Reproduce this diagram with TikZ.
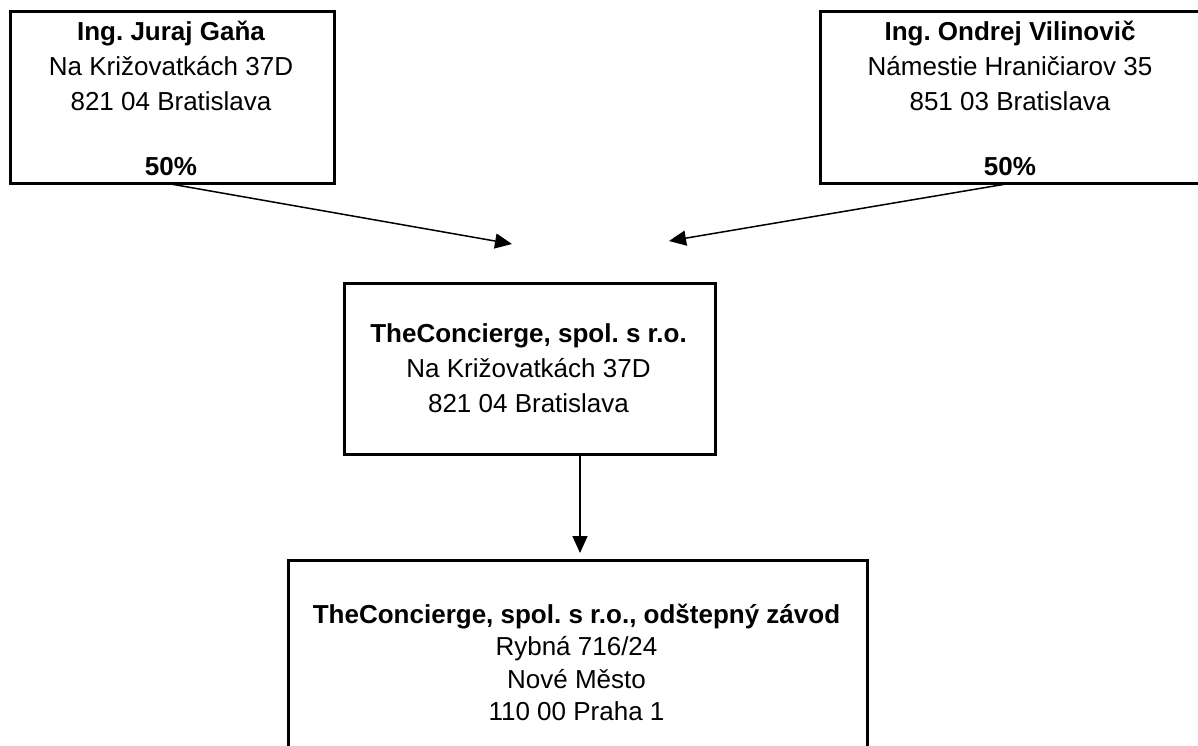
\documentclass[tikz,border=0pt]{standalone}
\usepackage{fontspec}
\setmainfont{Liberation Sans}
\usetikzlibrary{arrows.meta}
\frenchspacing
\begin{document}
\begin{tikzpicture}[x=1pt,y=-1pt,
  box/.style={draw, line width=2.6pt, rectangle, inner sep=0pt, anchor=north west},
  txt/.style={anchor=base, inner sep=0pt, font=\fontsize{26}{31}\selectfont},
  btxt/.style={anchor=base, inner sep=0pt, font=\fontsize{26}{31}\selectfont\bfseries},
  conn/.style={line width=1.5pt, -{Triangle[length=17pt,width=15pt]}}]
\useasboundingbox (0,0) rectangle (1198,745);
\clip (0,0) rectangle (1198,745);
% boxes
\node[box, minimum width=324pt, minimum height=172pt] (ga) at (9,10) {};
\node[box, minimum width=383pt, minimum height=172pt] (vi) at (819,10) {};
\node[box, minimum width=371pt, minimum height=171pt] (tc) at (343,282) {};
\node[box, minimum width=579pt, minimum height=260pt] (oz) at (287,559) {};
% texts, left box
\node[btxt] (ga1) at (171,40) {Ing. Juraj Gaňa};
\node[txt] (ga2) at (171,75) {Na Križovatkách 37D};
\node[txt] (ga3) at (171,110) {821 04 Bratislava};
\node[btxt] (ga4) at (171,175) {50\%};
% texts, right box
\node[btxt] (vi1) at (1010,40) {Ing. Ondrej Vilinovič};
\node[txt] (vi2) at (1010,75) {Námestie Hraničiarov 35};
\node[txt] (vi3) at (1010,110) {851 03 Bratislava};
\node[btxt] (vi4) at (1010,175) {50\%};
% texts, middle box
\node[btxt] (tc1) at (528.5,342) {TheConcierge, spol. s r.o.};
\node[txt] (tc2) at (528.5,377) {Na Križovatkách 37D};
\node[txt] (tc3) at (528.5,412) {821 04 Bratislava};
% texts, bottom box
\node[btxt] (oz1) at (576.5,623) {TheConcierge, spol. s r.o., odštepný závod};
\node[txt] (oz2) at (576.5,655) {Rybná 716/24};
\node[txt] (oz3) at (576.5,688) {Nové Město};
\node[txt] (oz4) at (576.5,720) {110 00 Praha 1};
% connectors
\coordinate (gaS) at (165,183);
\coordinate (tcL) at (512,244);
\coordinate (viS) at (1012,183);
\coordinate (tcR) at (669,241);
\coordinate (tcB) at (580,456);
\coordinate (ozT) at (580,553);
\draw[conn] (gaS) -- (tcL);
\draw[conn] (viS) -- (tcR);
\draw[conn] (tcB) -- (ozT);
\end{tikzpicture}
\end{document}
